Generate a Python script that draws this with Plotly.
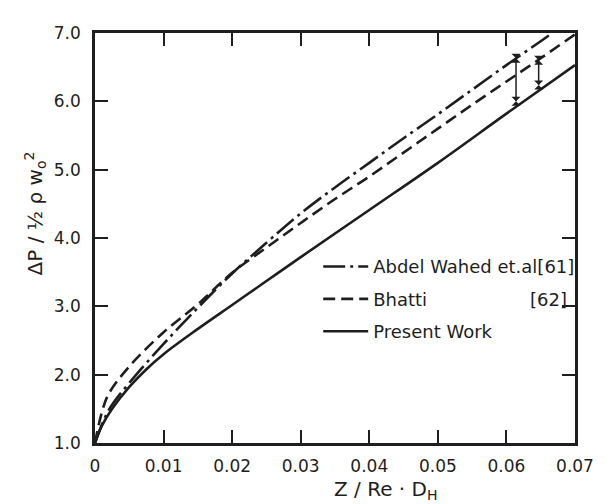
import plotly.graph_objects as go

# Abdel Wahed et al. [61] (dash-dot)
x_wahed = [0, 0.002, 0.005, 0.01, 0.015, 0.02, 0.025, 0.03, 0.035, 0.04, 0.045, 0.05, 0.055, 0.06, 0.065, 0.0667]
y_wahed = [1.0, 1.48, 1.88, 2.45, 2.98, 3.48, 3.93, 4.36, 4.74, 5.10, 5.46, 5.81, 6.17, 6.53, 6.88, 7.0]

# Bhatti [62] (dashed)
x_bhatti = [0, 0.001, 0.002, 0.005, 0.01, 0.015, 0.02, 0.025, 0.03, 0.035, 0.04, 0.045, 0.05, 0.055, 0.06, 0.065, 0.07]
y_bhatti = [1.0, 1.45, 1.72, 2.12, 2.62, 3.03, 3.49, 3.86, 4.22, 4.57, 4.90, 5.25, 5.60, 5.95, 6.29, 6.63, 6.98]

# Present work (solid)
x_present = [0, 0.001, 0.0025, 0.005, 0.0075, 0.01, 0.015, 0.02, 0.025, 0.03, 0.04, 0.05, 0.06, 0.07]
y_present = [1.0, 1.25, 1.5, 1.82, 2.08, 2.30, 2.67, 3.02, 3.37, 3.72, 4.41, 5.10, 5.82, 6.53]

# deviation bars
err_x = [0.0614, 0.0647]
err_top = [6.63, 6.60]
err_bot = [6.00, 6.24]

x_ticks = [0, 0.01, 0.02, 0.03, 0.04, 0.05, 0.06, 0.07]
x_ticktext = ["0", "0.01", "0.02", "0.03", "0.04", "0.05", "0.06", "0.07"]
y_ticks = [1, 2, 3, 4, 5, 6, 7]
y_ticktext = ["1.0", "2.0", "3.0", "4.0", "5.0", "6.0", "7.0"]

INK = "#1e1e1e"
FONT = "DejaVu Sans"

fig = go.Figure()
fig.add_trace(go.Scatter(x=x_wahed, y=y_wahed, mode="lines", line_shape="spline",
                         name="Abdel Wahed et.al[61]", legendgroup="a",
                         line=dict(color=INK, width=2.6, dash="22px,5px,3px,5px")))
fig.add_trace(go.Scatter(x=x_bhatti, y=y_bhatti, mode="lines", line_shape="spline",
                         name="Bhatti" + "\u00a0" * 18 + "[62]", legendgroup="b",
                         line=dict(color=INK, width=2.6, dash="12px,6px")))
fig.add_trace(go.Scatter(x=x_present, y=y_present, mode="lines", line_shape="spline",
                         name="Present Work", legendgroup="c",
                         line=dict(color=INK, width=2.6)))
for i in range(len(err_x)):
    fig.add_trace(go.Scatter(x=[err_x[i], err_x[i]], y=[err_top[i], err_bot[i]],
                             mode="lines+markers", showlegend=False,
                             line=dict(color=INK, width=1.5),
                             marker=dict(symbol="hourglass", size=9, color=INK)))

axis_common = dict(showline=True, linecolor=INK, linewidth=2.5, mirror="ticks",
                   ticks="inside", ticklen=13, tickwidth=1.5, tickcolor=INK,
                   showgrid=False, zeroline=False,
                   tickfont=dict(family=FONT, size=17, color=INK))

fig.update_layout(
    width=606, height=504,
    margin=dict(l=95, r=21, t=33, b=61),
    paper_bgcolor="white", plot_bgcolor="white",
    showlegend=True,
    legend=dict(x=0.465, y=0.475, xanchor="left", yanchor="top",
                bgcolor="rgba(0,0,0,0)", borderwidth=0,
                font=dict(family=FONT, size=18, color=INK),
                traceorder="grouped", tracegroupgap=6, itemwidth=45),
    xaxis=dict(range=[0, 0.07], tickvals=x_ticks, ticktext=x_ticktext,
               ticklabelstandoff=6, **axis_common),
    yaxis=dict(range=[1, 7], tickvals=y_ticks, ticktext=y_ticktext,
               ticklabelstandoff=8, **axis_common),
    annotations=[
        dict(text="Z / Re · D<sub>H</sub>", xref="paper", yref="paper",
             x=0.605, y=-0.115, xanchor="center", yanchor="middle", showarrow=False,
             font=dict(family=FONT, size=20, color=INK)),
        dict(text="ΔP / ½ ρ w<sub>o</sub><sup>2</sup>", xref="paper", yref="paper",
             x=-0.125, y=0.56, xanchor="center", yanchor="middle", showarrow=False,
             textangle=-90, font=dict(family=FONT, size=20, color=INK)),
    ],
)

fig.write_html("out.html", config={"displayModeBar": False},
               post_script="document.body.style.margin='0';document.body.style.padding='0';")
